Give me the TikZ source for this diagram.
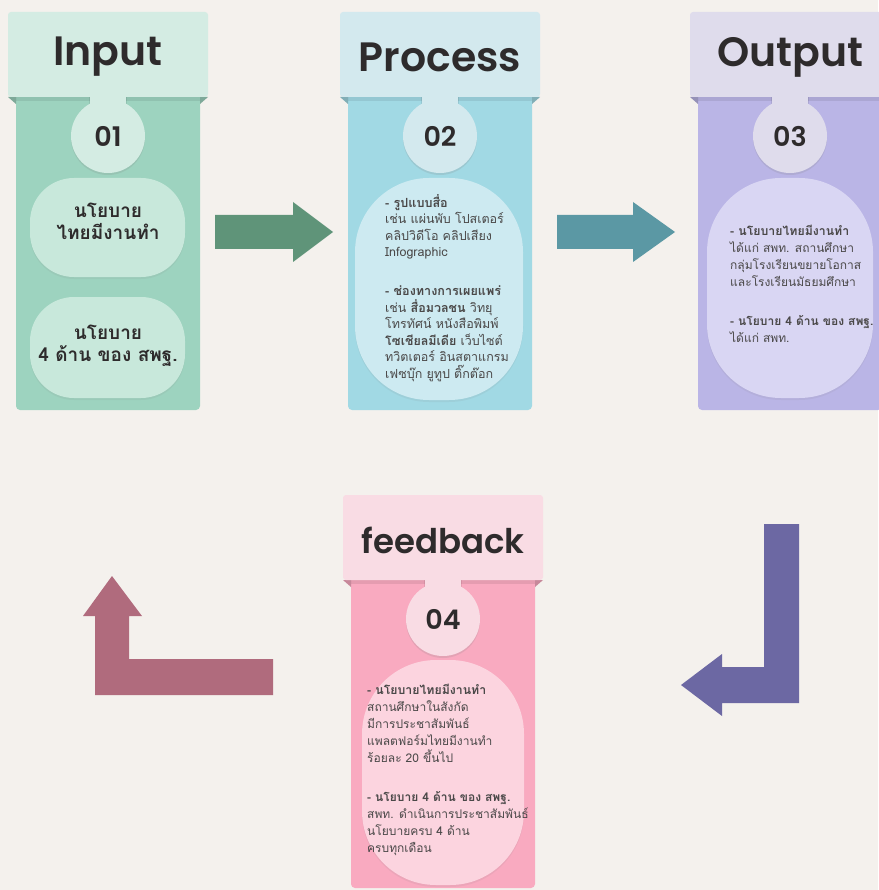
\documentclass[tikz,border=0pt]{standalone}
\usepackage{fontspec}
\newfontfamily\thai[Script=Thai]{Loma}
\newfontfamily\poppins{Poppins SemiBold}
\usetikzlibrary{shadows}
\definecolor{bg}{HTML}{F4F1ED}
\definecolor{txt}{HTML}{2E2B2C}
\definecolor{btxt}{HTML}{4A4848}
\definecolor{hA}{HTML}{D4ECE3}\definecolor{bA}{HTML}{9DD3BF}\definecolor{pA}{HTML}{C8E8DB}
\definecolor{hB}{HTML}{D3E9EE}\definecolor{bB}{HTML}{A1D9E4}\definecolor{pB}{HTML}{CDEAF1}
\definecolor{hC}{HTML}{DFDCEC}\definecolor{bC}{HTML}{BAB5E6}\definecolor{pC}{HTML}{D9D6F3}
\definecolor{hD}{HTML}{F9DCE4}\definecolor{bD}{HTML}{F9AAC0}\definecolor{pD}{HTML}{FCD4DF}
\definecolor{arA}{HTML}{5F9479}
\definecolor{arB}{HTML}{5B98A4}
\definecolor{arC}{HTML}{6C68A3}
\definecolor{arD}{HTML}{B06B7D}
% #1 name, #2 left, #3 top, #4 header col, #5 body col, #6 title, #7 number, #8 body bottom, #9 title size
\newcommand\mypanel[9]{%
  \fill[#5, rounded corners=4] (#2+8,#3+80) rectangle (#2+192,#8);
  \fill[#5!80!black] (#2,#3+85) -- (#2+8,#3+85) -- (#2+8,#3+92) -- cycle;
  \fill[#5!80!black] (#2+200,#3+85) -- (#2+192,#3+85) -- (#2+192,#3+92) -- cycle;
  \fill[black, opacity=0.08] (#2+8,#3+85) rectangle (#2+192,#3+89);
  \fill[#4, rounded corners=3] (#2,#3) rectangle (#2+200,#3+85);
  \node[font=\poppins\fontsize{#9}{#9}\selectfont, text=txt] (#1title) at (#2+100,#3+45) {#6};
  \fill[black, opacity=0.08] (#2+81,#3+85) rectangle (#2+119,#3+100);
  \fill[#4] (#2+82,#3+80) rectangle (#2+118,#3+100);
  \node[circle, fill=#4, minimum size=74pt, inner sep=0pt,
        drop shadow={opacity=0.18, shadow xshift=0pt, shadow yshift=-2pt},
        font=\poppins\fontsize{27}{27}\selectfont, text=txt] (#1num) at (#2+100,#3+124) {#7};
}
\tikzset{
  pill/.style={fill=#1, drop shadow={opacity=0.10, shadow xshift=0pt, shadow yshift=-2pt}},
  bodytext/.style={anchor=north west, inner sep=0pt, align=left, text=btxt,
        font=\thai\fontsize{12.5}{16.6}\selectfont},
  smalltext/.style={bodytext, font=\thai\fontsize{12}{17}\selectfont},
  pilltitle/.style={align=center, inner sep=0pt, text=txt,
        font=\thai\bfseries\fontsize{19}{22}\selectfont},
  blockarrow/.style={fill=#1}
}
\begin{document}
\begin{tikzpicture}[x=1pt,y=-1pt]
\useasboundingbox (0,0) rectangle (878,890);
\fill[bg] (0,0) rectangle (878,890);

% ---------- panels ----------
\mypanel{in}{8}{12}{hA}{bA}{Input}{01}{410}{41}
\mypanel{pr}{340}{12}{hB}{bB}{Process}{02}{410}{41}
\mypanel{ou}{690}{12}{hC}{bC}{Output}{03}{410}{41}
\mypanel{fb}{343}{495}{hD}{bD}{feedback}{04}{888}{34}

% ---------- Input pills ----------
\path[pill=pA, rounded corners=44] (30,178) rectangle (185,277);
\node[pilltitle] (inA) at (108,221) {นโยบาย\\ไทยมีงานทำ};
\path[pill=pA, rounded corners=44] (30,297) rectangle (185,398);
\node[pilltitle] (inB) at (108,346) {นโยบาย\\4 ด้าน ของ สพฐ.};

% ---------- Process pill ----------
\path[pill=pB, rounded corners=74] (355,178) rectangle (523,400);
\node[bodytext] (prT) at (385,194) {%
{\bfseries\fontsize{12.6}{16.6}\selectfont - รูปแบบสื่อ}\\
เช่น แผ่นพับ โปสเตอร์\\
คลิปวิดีโอ คลิปเสียง\\
Infographic\\[22pt]
{\bfseries\fontsize{12.6}{16.6}\selectfont - ช่องทางการเผยแพร่}\\
เช่น {\bfseries สื่อมวลชน} วิทยุ\\
โทรทัศน์ หนังสือพิมพ์\\
{\bfseries โซเชียลมีเดีย} เว็บไซต์\\
ทวิตเตอร์ อินสตาแกรม\\
เฟซบุ๊ก ยูทูป ติ๊กต๊อก};

% ---------- Output pill ----------
\path[pill=pC, rounded corners=74] (707,178) rectangle (873,398);
\node[smalltext] (ouT) at (730,225) {%
{\bfseries\fontsize{12.3}{17}\selectfont - นโยบายไทยมีงานทำ}\\
ได้แก่ สพท. สถานศึกษา\\
กลุ่มโรงเรียนขยายโอกาส\\
และโรงเรียนมัธยมศึกษา\\[22pt]
{\bfseries\fontsize{12}{17}\selectfont - นโยบาย 4 ด้าน ของ สพฐ.}\\
ได้แก่ สพท.};

% ---------- Feedback pill ----------
\path[pill=pD, rounded corners=74] (362,660) rectangle (524,885);
\node[smalltext] (fbT) at (367,684) {%
{\bfseries\fontsize{12.3}{17}\selectfont - นโยบายไทยมีงานทำ}\\
สถานศึกษาในสังกัด\\
มีการประชาสัมพันธ์\\
แพลตฟอร์มไทยมีงานทำ\\
ร้อยละ 20 ขึ้นไป\\[22pt]
{\bfseries\fontsize{12}{17}\selectfont - นโยบาย 4 ด้าน ของ สพฐ.}\\
สพท. ดำเนินการประชาสัมพันธ์\\
นโยบายครบ 4 ด้าน\\
ครบทุกเดือน};

% ---------- arrows ----------
\fill[blockarrow=arA] (215,215) -- (293,215) -- (293,202) -- (333,232) -- (293,262) -- (293,249) -- (215,249) -- cycle;
\fill[blockarrow=arB] (557,215) -- (633,215) -- (633,202) -- (675,232) -- (633,262) -- (633,249) -- (557,249) -- cycle;
\fill[blockarrow=arC] (764,524) -- (799,524) -- (799,703) -- (722,703) -- (722,716) -- (681,685) -- (722,654) -- (722,667) -- (764,667) -- cycle;
\fill[blockarrow=arD] (95,695) -- (95,616) -- (83,616) -- (112,576) -- (142,616) -- (129,616) -- (129,659) -- (273,659) -- (273,695) -- cycle;
\end{tikzpicture}
\end{document}
